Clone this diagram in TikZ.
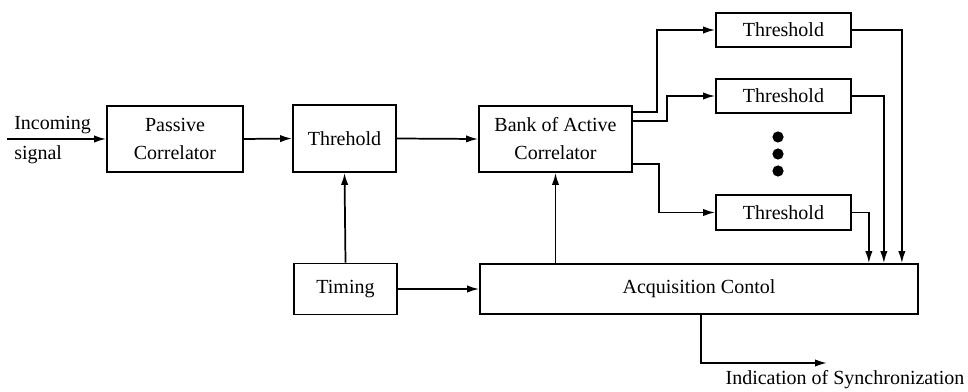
\documentclass[tikz,border=0pt]{standalone}
\usepackage{fontspec}
\setmainfont{Liberation Serif}
\usetikzlibrary{arrows.meta,calc}
\begin{document}
\begin{tikzpicture}[x=0.75pt,y=-0.75pt,
  blk/.style={draw,line width=1.3pt,inner sep=0pt,align=center,font=\fontsize{15}{21}\selectfont},
  lbl/.style={inner sep=0pt,font=\fontsize{15}{18}\selectfont},
  arr/.style={line width=1.3pt,-{Latex[length=9pt,width=5.5pt]}},
  wire/.style={line width=1.3pt}]
\useasboundingbox (0,0) rectangle (968,392);

% blocks
\node[blk,minimum width=136*0.75pt,minimum height=66*0.75pt] (pc) at (175,139) {Passive\\Correlator};
\node[blk,minimum width=103*0.75pt,minimum height=67*0.75pt] (th) at (344.5,138.5) {Threhold};
\node[blk,minimum width=153*0.75pt,minimum height=66*0.75pt] (bank) at (555.5,139) {Bank of Active\\Correlator};
\node[blk,minimum width=135*0.75pt,minimum height=34*0.75pt] (t1) at (783.5,30) {Threshold};
\node[blk,minimum width=135*0.75pt,minimum height=34*0.75pt] (t2) at (783.5,96) {Threshold};
\node[blk,minimum width=135*0.75pt,minimum height=35*0.75pt] (t3) at (783.5,212.5) {Threshold};
\node[blk,minimum width=103*0.75pt,minimum height=51*0.75pt] (timing) at (345.5,289) {Timing};
\node[blk,minimum width=438*0.75pt,minimum height=50*0.75pt] (acq) at (699,289) {Acquisition Contol};

% ellipsis dots between the threshold detectors
\foreach \yy/\nm in {137/d1,154/d2,171/d3}
  \fill (778,\yy) circle (4.2pt) coordinate (\nm);

% input
\coordinate (in) at (7,139);
\draw[arr] (in) -- (pc.west);
\node[lbl,anchor=west] (inc) at (14,125) {Incoming};
\node[lbl,anchor=west] (sig) at (14,155) {signal};

% main chain
\draw[arr] (pc.east) -- (th.west);
\draw[arr] (th.east) -- (bank.west);

% correlator bank to threshold detectors
\draw[arr] ($(bank.north east)+(0,7)$) -- ++(24,0) |- (t1.west);
\draw[arr] ($(bank.north east)+(0,16)$) -- ++(34,0) |- (t2.west);
\draw[arr] ($(bank.south east)+(0,-9)$) -- ++(26,0) |- (t3.west);

% threshold detectors to acquisition control
\draw[arr] (t3.east) -| ($(acq.north east)+(-50,0)$);
\draw[arr] (t2.east) -| ($(acq.north east)+(-35,0)$);
\draw[arr] (t1.east) -| ($(acq.north east)+(-17,0)$);

% timing and control
\draw[arr] (timing.north) -- (th.south);
\draw[arr] (timing.east) -- (acq.west);
\draw[arr] (bank.south |- acq.north) -- (bank.south);

% synchronization output
\coordinate (sync) at (827,363);
\draw[arr] ($(acq.south)+(2,0)$) |- (sync);
\node[lbl] (synclbl) at (845,380) {Indication of Synchronization};
\end{tikzpicture}
\end{document}
